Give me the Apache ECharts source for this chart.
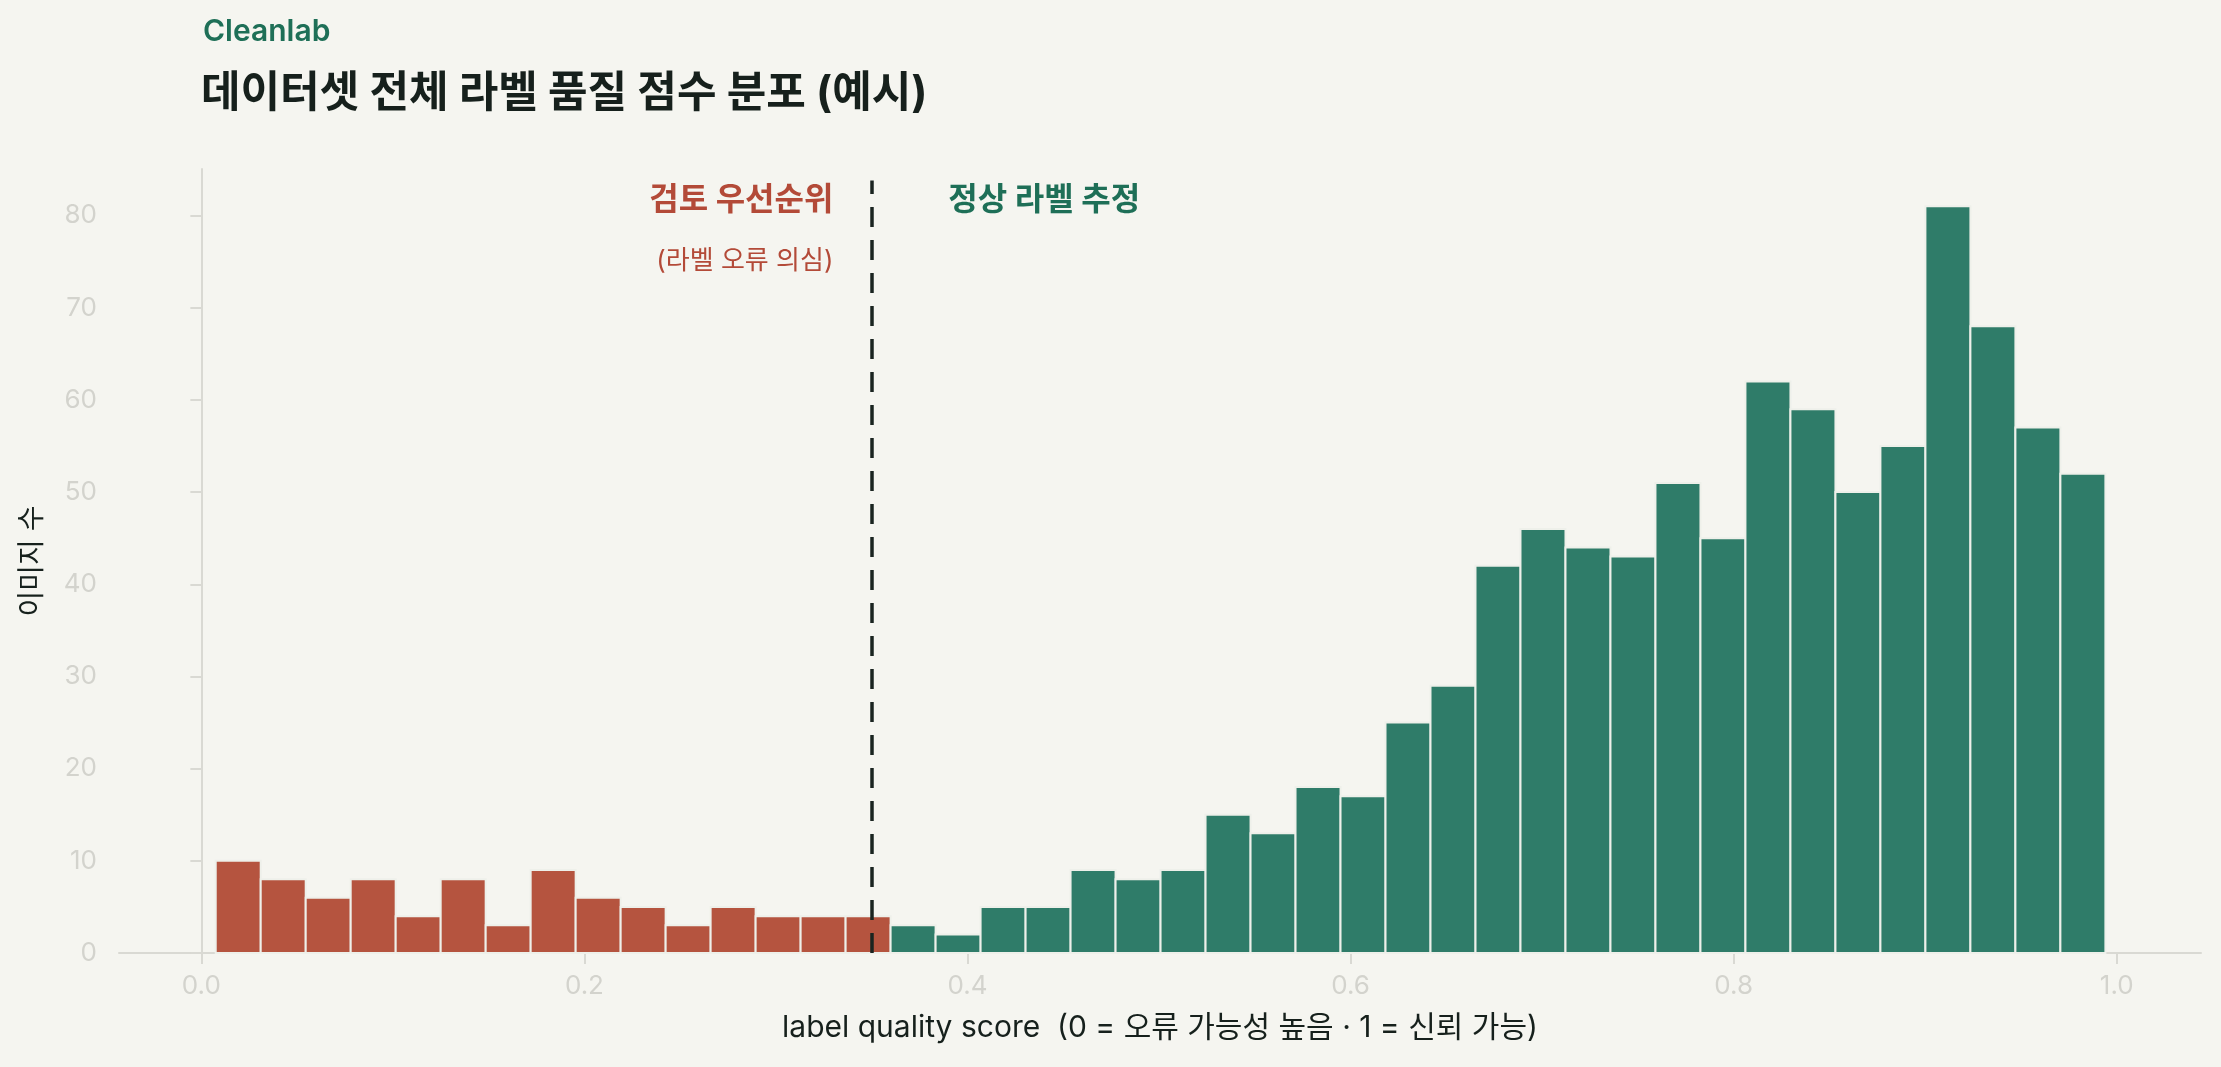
<!DOCTYPE html>
<html>
<head>
<meta charset="utf-8">
<title>라벨 품질 점수 분포</title>
<script src="https://cdn.jsdelivr.net/npm/echarts@6/dist/echarts.min.js"></script>
<style>
  html, body { margin: 0; padding: 0; background: #f5f5f0; }
  #main { width: 2221px; height: 1067px; }
</style>
</head>
<body>
<div id="main"></div>
<script>
// 히스토그램 데이터 (42개 구간)
var binStart = 0.0075;
var binWidth = 0.02349;
var counts = [10, 8, 6, 8, 4, 8, 3, 9, 6, 5, 3, 5, 4, 4, 4,
              3, 2, 5, 5, 9, 8, 9, 15, 13, 18, 17, 25, 29, 42,
              46, 44, 43, 51, 45, 62, 59, 50, 55, 81, 68, 57, 52];
var threshold = 0.35;
var xTicks = [0, 0.2, 0.4, 0.6, 0.8, 1.0];
var yTicks = [0, 10, 20, 30, 40, 50, 60, 70, 80];

var BG = '#f5f5f0';
var RED = '#b5543f';
var GREEN = '#2f7c69';
var AXIS = '#d9d9d3';
var FONT = 'Inter, "Noto Sans CJK KR", sans-serif';

var bins = counts.map(function (c, i) {
  var x0 = binStart + i * binWidth;
  return [x0, x0 + binWidth, c];
});

var chart = echarts.init(document.getElementById('main'));

var option = {
  backgroundColor: BG,
  animation: false,
  grid: { left: 119, right: 20, top: 169, bottom: 114 },
  xAxis: {
    type: 'value',
    min: -0.043,
    max: 1.044,
    name: 'label quality score  (0 = 오류 가능성 높음 · 1 = 신뢰 가능)',
    nameLocation: 'middle',
    nameGap: 60,
    nameTextStyle: { fontFamily: FONT, fontSize: 30, color: '#16201c' },
    splitLine: { show: false },
    axisLine: { show: true, onZero: false, lineStyle: { color: AXIS, width: 2 } },
    axisTick: { show: true, length: 11, customValues: xTicks, lineStyle: { color: AXIS, width: 2 } },
    axisLabel: {
      customValues: xTicks,
      margin: 20,
      fontFamily: FONT,
      fontSize: 26,
      color: '#d3d3cd',
      formatter: function (v) { return v.toFixed(1); }
    }
  },
  yAxis: {
    type: 'value',
    min: 0,
    max: 85.05,
    name: '이미지 수',
    nameLocation: 'middle',
    nameGap: 72,
    nameTextStyle: { fontFamily: FONT, fontSize: 28, color: '#16201c' },
    splitLine: { show: false },
    axisLine: { show: true, lineStyle: { color: AXIS, width: 2 } },
    axisTick: { show: true, length: 11, customValues: yTicks, lineStyle: { color: AXIS, width: 2 } },
    axisLabel: {
      customValues: yTicks,
      margin: 22,
      fontFamily: FONT,
      fontSize: 26,
      color: '#d3d3cd'
    }
  },
  series: [{
    type: 'custom',
    data: bins,
    encode: { x: [0, 1], y: 2 },
    renderItem: function (params, api) {
      var x0 = api.value(0), x1 = api.value(1), c = api.value(2);
      var p0 = api.coord([x0, c]);
      var p1 = api.coord([x1, 0]);
      var mid = (x0 + x1) / 2;
      return {
        type: 'rect',
        shape: { x: p0[0], y: p0[1], width: p1[0] - p0[0], height: p1[1] - p0[1] },
        style: { fill: mid < threshold ? RED : GREEN, stroke: '#eef0ea', lineWidth: 2 }
      };
    },
    markLine: {
      silent: true,
      symbol: 'none',
      label: { show: false },
      lineStyle: { color: '#1a2420', width: 3.5, type: [20, 13] },
      data: [[{ coord: [threshold, 0] }, { coord: [threshold, 83.8] }]]
    }
  }]
};

chart.setOption(option);

var pRed1 = chart.convertToPixel({ gridIndex: 0 }, [threshold - 0.02, 81.6]);
var pRed2 = chart.convertToPixel({ gridIndex: 0 }, [threshold - 0.02, 75]);
var pGreen = chart.convertToPixel({ gridIndex: 0 }, [threshold + 0.04, 81.6]);

chart.setOption({
  graphic: [
    { type: 'text', left: 203, top: 17,
      style: { text: 'Cleanlab', fill: '#1e6f57', font: '600 30px ' + FONT } },
    { type: 'text', left: 201, top: 73,
      style: { text: '데이터셋 전체 라벨 품질 점수 분포 (예시)', fill: '#16201c', font: 'bold 43px ' + FONT } },
    { type: 'text', x: pRed1[0], y: pRed1[1],
      style: { text: '검토 우선순위', fill: '#b34a38', font: 'bold 32px ' + FONT, align: 'right', verticalAlign: 'middle' } },
    { type: 'text', x: pRed2[0], y: pRed2[1],
      style: { text: '(라벨 오류 의심)', fill: '#b34a38', font: '26px ' + FONT, align: 'right', verticalAlign: 'middle' } },
    { type: 'text', x: pGreen[0], y: pGreen[1],
      style: { text: '정상 라벨 추정', fill: '#1e6f57', font: 'bold 32px ' + FONT, align: 'left', verticalAlign: 'middle' } }
  ]
});
</script>
</body>
</html>
